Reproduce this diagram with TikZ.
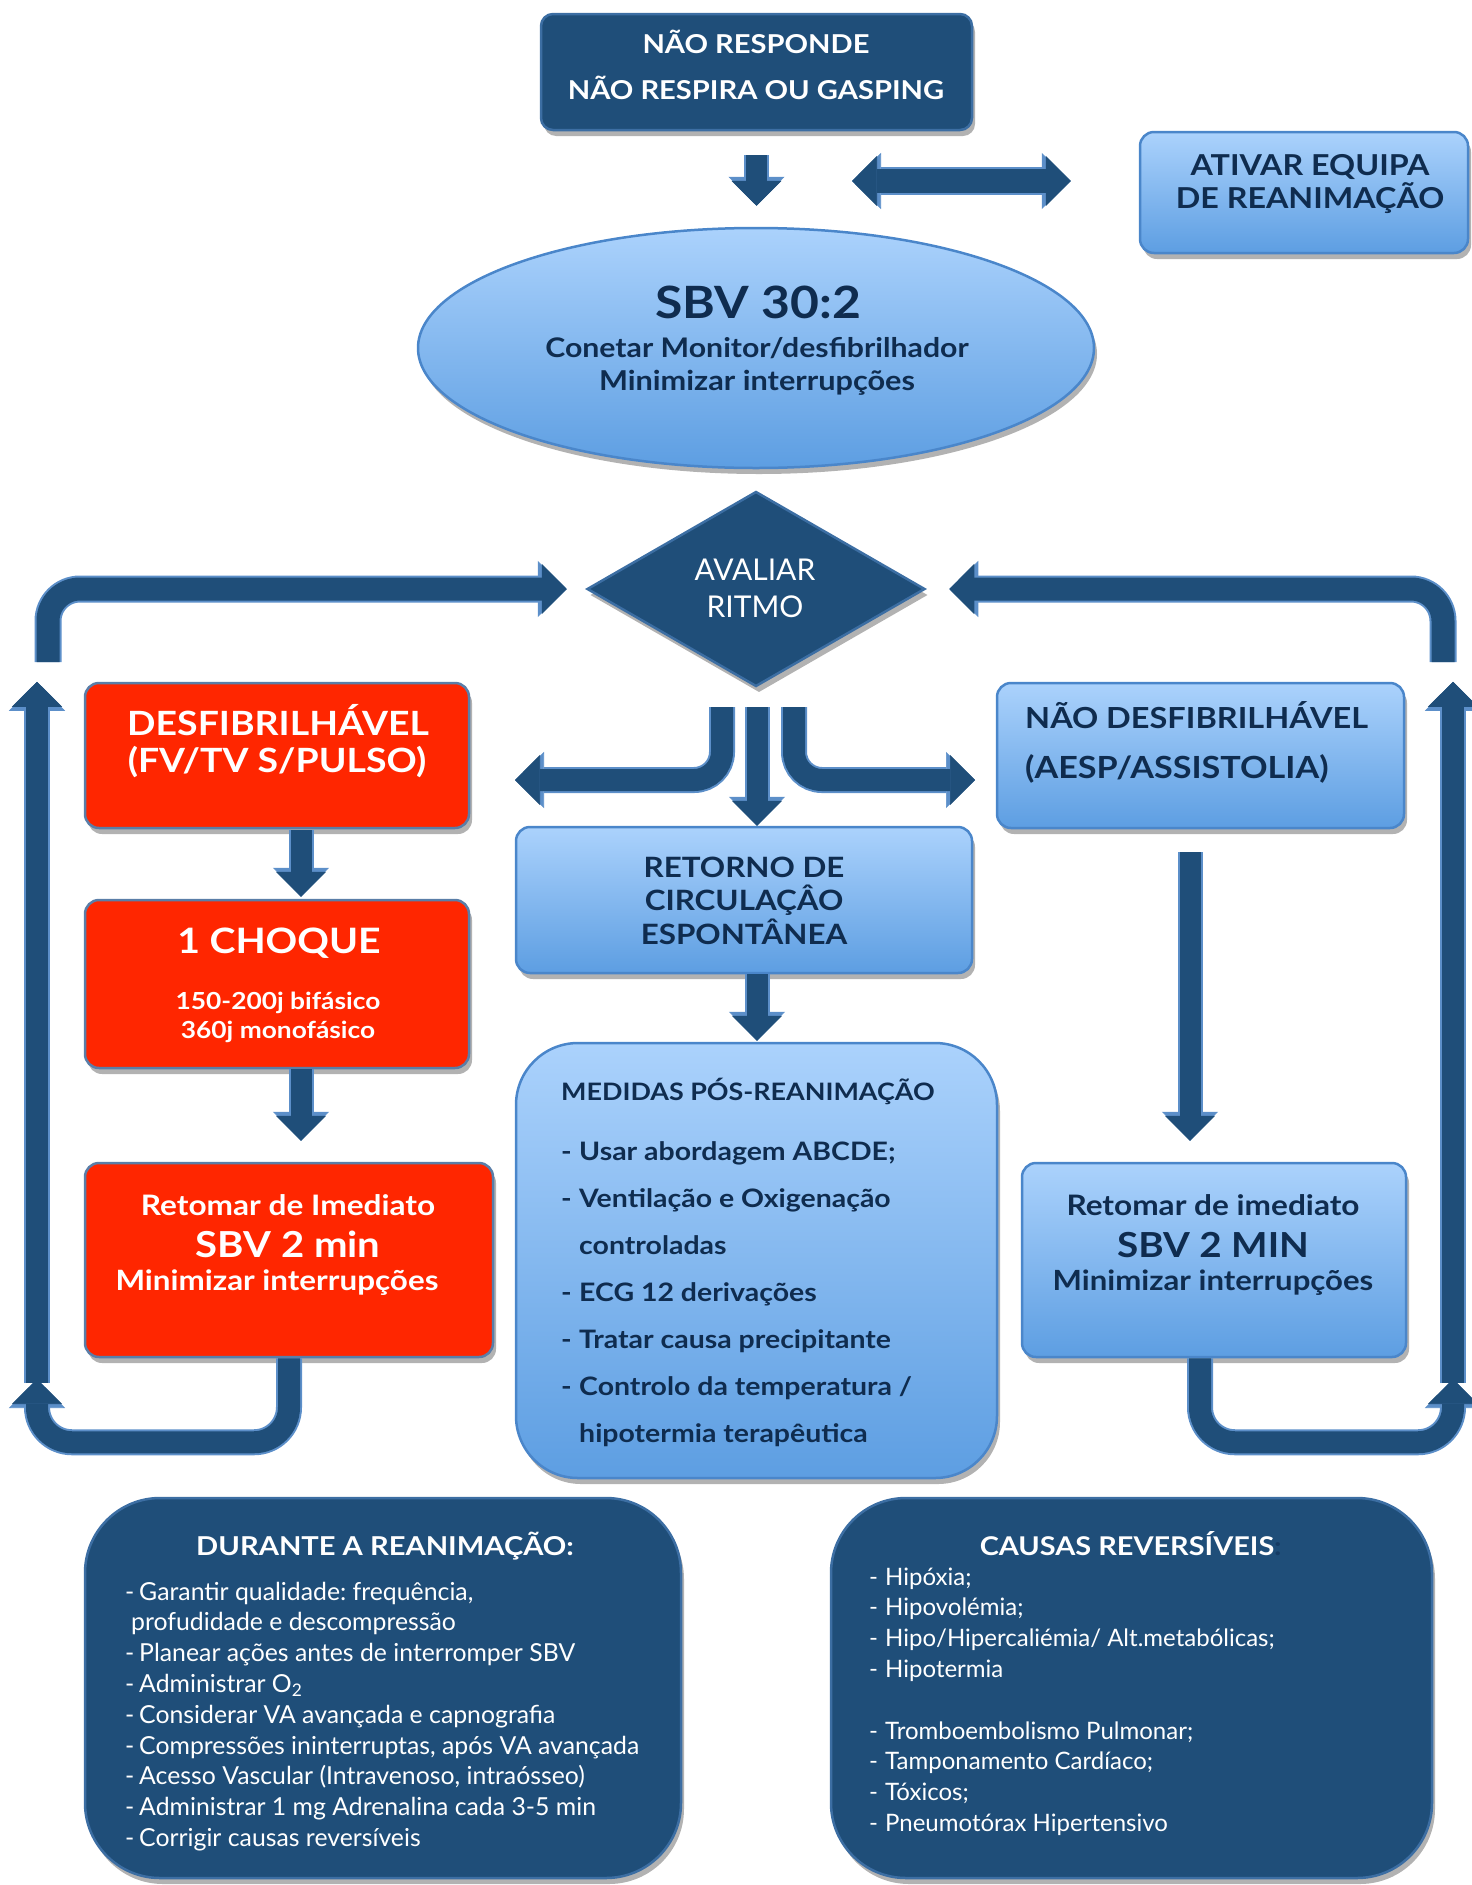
\documentclass[tikz,border=0pt]{standalone}
\usepackage{fontspec}
\setmainfont{Lato}[BoldFeatures={FakeStretch=1.12}]
\usetikzlibrary{arrows.meta,shapes.geometric,shadows}
\definecolor{navy}{HTML}{1F4E79}
\definecolor{darkedge}{HTML}{3C6EA3}
\definecolor{edgeb}{HTML}{5C8FC9}
\definecolor{lbtop}{HTML}{ABD2FC}
\definecolor{lbbot}{HTML}{5D9EE2}
\definecolor{blueedge}{HTML}{4A86CA}
\definecolor{redf}{HTML}{FF2600}
\definecolor{rededge}{HTML}{5A7EA8}
\definecolor{navytext}{HTML}{0F2C4F}
\definecolor{colondark}{HTML}{163B63}
\newcommand\myfs[1]{\fontsize{#1}{#1}\selectfont}
\newcommand\myfsb[2]{\fontsize{#1}{#2}\selectfont}
\frenchspacing
\tikzset{
 shadowed/.style={drop shadow={opacity=0.3,shadow xshift=3pt,shadow yshift=-6pt,fill=black}},
 darkbox/.style={shadowed,draw=darkedge,line width=2.5pt,fill=navy,rounded corners=12pt},
 bluebox/.style={shadowed,draw=blueedge,line width=2.5pt,top color=lbtop,bottom color=lbbot,rounded corners=14pt},
 redbox/.style={shadowed,draw=rededge,line width=2.5pt,fill=redf,rounded corners=14pt},
 ln/.style={anchor=base,inner sep=0pt},
 wt/.style={text=white},
 dt/.style={text=navytext},
 tipA/.style={-{Triangle[width=50pt,length=25pt,line width=0.6pt]}},
 tipB/.style={-{Triangle[width=56pt,length=29pt,line width=0.6pt]}},
 tipAA/.style={{Triangle[width=50pt,length=25pt,line width=0.6pt]}-{Triangle[width=50pt,length=25pt,line width=0.6pt]}},
 tipBB/.style={{Triangle[width=56pt,length=29pt,line width=0.6pt]}-{Triangle[width=56pt,length=29pt,line width=0.6pt]}},
 blk/.style={draw=navy,line width=#1,tipA,preaction={draw=edgeb,line width=#1+4pt,tipB}},
 blkd/.style={draw=navy,line width=#1,tipAA,preaction={draw=edgeb,line width=#1+4pt,tipBB}},
}
\begin{document}
\begin{tikzpicture}[x=1pt,y=-1pt]
\useasboundingbox (0,0) rectangle (1472,1885);

% ---------- boxes ----------
\node[darkbox,minimum width=431pt,minimum height=116pt] (top) at (756.5,72) {};
\node[ln,wt,font=\myfs{26}\bfseries] (top1) at (756,53) {NÃO RESPONDE};
\node[ln,wt,font=\myfs{26}\bfseries] (top2) at (756,99) {NÃO RESPIRA OU GASPING};

\node[bluebox,minimum width=328pt,minimum height=121pt] (ativar) at (1304,192.5) {};
\node[ln,dt,font=\myfs{28.8}\bfseries] (at1) at (1310,175) {ATIVAR EQUIPA};
\node[ln,dt,font=\myfs{28.8}\bfseries] (at2) at (1310,208) {DE REANIMAÇÃO};

\node[ellipse,shadowed,draw=blueedge,line width=2.5pt,top color=lbtop,bottom color=lbbot,minimum width=676pt,minimum height=240pt] (sbv) at (756,348) {};
\node[ln,dt,font=\myfs{44.5}\bfseries] (sbv1) at (758,318) {SBV 30:2};
\node[ln,dt,font=\myfs{27}\bfseries] (sbv2) at (757,357) {Conetar Monitor/desfibrilhador};
\node[ln,dt,font=\myfs{27.4}\bfseries] (sbv3) at (757,390) {Minimizar interrupções};

\node[diamond,shadowed,draw=darkedge,line width=2.5pt,fill=navy,minimum width=338pt,minimum height=195pt] (aval) at (756,589) {};
\node[ln,wt,font=\myfs{30}] (av1) at (755,580) {AVALIAR};
\node[ln,wt,font=\myfs{30}] (av2) at (755,617) {RITMO};

\node[redbox,minimum width=384pt,minimum height=145pt] (desf) at (277,755.5) {};
\node[ln,wt,font=\myfs{33.4}\bfseries] (d1) at (278,735) {DESFIBRILHÁVEL};
\node[ln,wt,font=\myfs{33.4}\bfseries] (d2) at (277,772) {(FV/TV S/PULSO)};

\node[bluebox,minimum width=407pt,minimum height=145pt] (ndesf) at (1200.5,755.5) {};
\node[ln,anchor=base west,dt,font=\myfs{29}\bfseries] (n1) at (1025,728) {NÃO DESFIBRILHÁVEL};
\node[ln,anchor=base west,dt,font=\myfs{30.5}\bfseries] (n2) at (1025,778) {(AESP/ASSISTOLIA)};

\node[bluebox,minimum width=456pt,minimum height=146pt] (ret) at (744,900) {};
\node[ln,dt,font=\myfs{28}\bfseries] (re1) at (744,877) {RETORNO DE};
\node[ln,dt,font=\myfs{28}\bfseries] (re2) at (744,910) {CIRCULAÇÂO};
\node[ln,dt,font=\myfs{28}\bfseries] (re3) at (744,944) {ESPONTÂNEA};

\node[redbox,minimum width=384pt,minimum height=168pt] (choque) at (277,984) {};
\node[ln,wt,font=\myfs{35}\bfseries] (c1) at (279,953) {1 CHOQUE};
\node[ln,wt,font=\myfs{23.5}\bfseries] (c2) at (278,1009) {150-200j bifásico};
\node[ln,wt,font=\myfs{23.5}\bfseries] (c3) at (278,1038) {360j monofásico};

\node[redbox,minimum width=408pt,minimum height=194pt] (retr) at (289,1260) {};
\node[ln,wt,font=\myfs{28.2}\bfseries] (r1) at (288,1215) {Retomar de Imediato};
\node[ln,wt,font=\myfs{35.8}\bfseries] (r2) at (288,1257) {SBV 2 min};
\node[ln,wt,font=\myfs{28}\bfseries] (r3) at (277,1290) {Minimizar interrupções};

\node[bluebox,rounded corners=62pt,minimum width=481pt,minimum height=435pt] (med) at (756.5,1260.5) {};
\node[ln,anchor=base west,dt,font=\myfs{24}\bfseries] (m0) at (561,1100) {MEDIDAS PÓS-REANIMAÇÃO};
\node[anchor=base west,inner sep=0pt,dt,font=\myfsb{25.4}{47}\bfseries] (mlist) at (561,1160) {\begin{tabular}[t]{@{}p{18pt}@{}l@{}}
-&Usar abordagem ABCDE;\\
-&Ventilação e Oxigenação\\
&controladas\\
-&ECG 12 derivações\\
-&Tratar causa precipitante\\
-&Controlo da temperatura /\\
&hipotermia terapêutica
\end{tabular}};

\node[bluebox,minimum width=384pt,minimum height=194pt] (retb) at (1214,1260) {};
\node[ln,dt,font=\myfs{28.2}\bfseries] (b1) at (1213,1215) {Retomar de imediato};
\node[ln,dt,font=\myfs{34.5}\bfseries] (b2) at (1213,1257) {SBV 2 MIN};
\node[ln,dt,font=\myfs{27.8}\bfseries] (b3) at (1213,1290) {Minimizar interrupções};

\node[darkbox,rounded corners=75pt,minimum width=596pt,minimum height=380pt] (dur) at (383,1688) {};
\node[ln,wt,font=\myfs{26}\bfseries] (dur0) at (385,1555) {DURANTE A REANIMAÇÃO:};
\node[anchor=base west,inner sep=0pt,wt,font=\myfsb{24.8}{30.8}] (durlist) at (125,1600) {\begin{tabular}[t]{@{}p{14pt}@{}l@{}}
-&Garantir qualidade: frequência,\\
&\hspace*{-8pt}profudidade e descompressão\\
-&Planear ações antes de interromper SBV\\
-&Administrar O\textsubscript{2}\\
-&Considerar VA avançada e capnografia\\
-&Compressões ininterruptas, após VA avançada\\
-&Acesso Vascular (Intravenoso, intraósseo)\\
-&Administrar 1 mg Adrenalina cada 3-5 min\\
-&Corrigir causas reversíveis
\end{tabular}};

\node[darkbox,rounded corners=75pt,minimum width=601pt,minimum height=380pt] (cau) at (1131.5,1688) {};
\node[ln,wt,font=\myfs{25.8}\bfseries] (cau0) at (1127,1555) {CAUSAS REVERSÍVEIS\rlap{\color{colondark}:}};
\node[anchor=base west,inner sep=0pt,wt,font=\myfsb{24}{30.8}] (caulist) at (869,1585) {\begin{tabular}[t]{@{}p{16pt}@{}l@{}}
-&Hipóxia;\\
-&Hipovolémia;\\
-&Hipo/Hipercaliémia/ Alt.metabólicas;\\
-&Hipotermia\\
&\\
-&Tromboembolismo Pulmonar;\\
-&Tamponamento Cardíaco;\\
-&Tóxicos;\\
-&Pneumotórax Hipertensivo
\end{tabular}};

% ---------- coordinates ----------
\coordinate (dbl) at (852,181);
\coordinate (tl) at (48,662);
\coordinate (tr) at (1443,662);
\coordinate (bc) at (757,707);
\coordinate (bl) at (722,707);
\coordinate (blend) at (515,780);
\coordinate (br) at (794,707);
\coordinate (brend) at (975,780);
\coordinate (x301) at (301,0);
\coordinate (x1190) at (1190,0);
\coordinate (x1200) at (1200,0);
\coordinate (luend) at (37,1379);
\coordinate (ll) at (37,1383);
\coordinate (ruend) at (1453,1379);
\coordinate (rl) at (1453,1383);

% ---------- arrows ----------
\draw[blk=21pt,shorten <=24pt,shorten >=21pt] (top.south) -- (top.south |- sbv.north);
\draw[blkd=24pt,shorten >=68pt] (dbl) -- (ativar.west |- dbl);
\draw[blk=23pt,rounded corners=32pt,shorten >=19pt] (tl) |- (aval.west);
\draw[blk=23pt,rounded corners=32pt,shorten >=23pt] (tr) |- (aval.east);
\draw[blk=21pt] (bc) -- (bc |- ret.north);
\draw[blk=22pt,rounded corners=28pt] (bl) |- (blend);
\draw[blk=22pt,rounded corners=28pt] (br) |- (brend);
\draw[blk=21pt,shorten <=1pt,shorten >=2pt] (desf.south -| x301) -- (choque.north -| x301);
\draw[blk=21pt,shorten >=21pt] (choque.south -| x301) -- (retr.north -| x301);
\draw[blk=21pt,shorten >=1pt] (ret.south -| bc) -- (med.north -| bc);
\draw[blk=21pt,shorten <=23pt,shorten >=21pt] (ndesf.south -| x1190) -- (retb.north -| x1190);
\draw[blk=22pt,rounded corners=35pt] (retr.south) -- ++(0,84) -| (luend);
\draw[blk=22pt] (ll) -- (ll |- desf.north);
\draw[blk=22pt,rounded corners=35pt] (retb.south -| x1200) -- ++(0,84) -| (ruend);
\draw[blk=22pt] (rl) -- (rl |- ndesf.north);
\end{tikzpicture}
\end{document}
